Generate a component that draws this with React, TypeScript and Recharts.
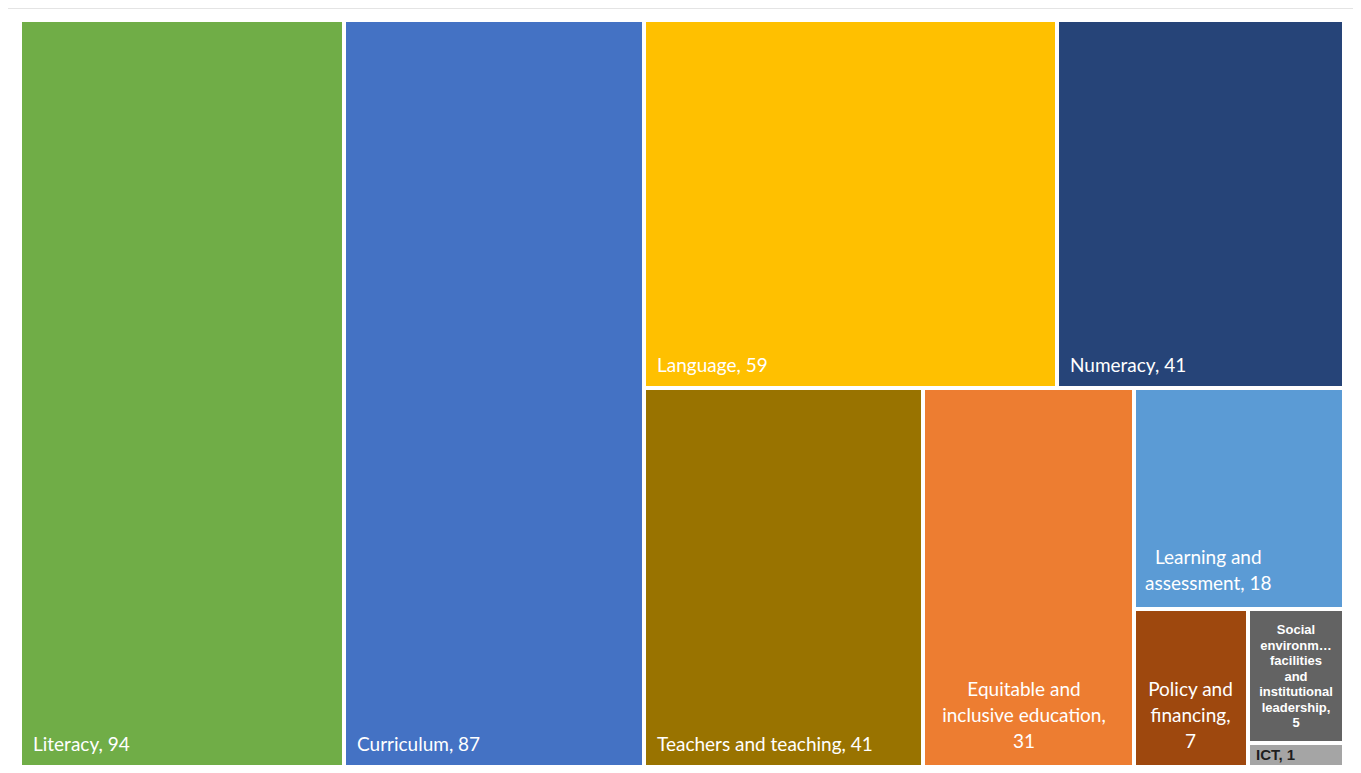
import React from 'react';
import { Treemap } from 'recharts';

const categories = [
  'Literacy',
  'Curriculum',
  'Language',
  'Numeracy',
  'Teachers and teaching',
  'Equitable and inclusive education',
  'Learning and assessment',
  'Policy and financing',
  'Social environment, facilities and institutional leadership',
  'ICT',
];
const counts = [94, 87, 59, 41, 41, 31, 18, 7, 5, 1];
const colors = ['#70AD47', '#4472C4', '#FFC000', '#264478', '#997300', '#ED7D31', '#5B9BD5', '#9E480E', '#636363', '#A5A5A5'];

// how Excel wrapped the longer labels ({v} = value)
const wrapped: Record<string, string[]> = {
  'Learning and assessment': ['Learning and', 'assessment, {v}'],
  'Equitable and inclusive education': ['Equitable and', 'inclusive education,', '{v}'],
  'Policy and financing': ['Policy and', 'financing,', '{v}'],
  'Social environment, facilities and institutional leadership': ['Social', 'environm…', 'facilities', 'and', 'institutional', 'leadership,', '{v}'],
};
const smallLabels = ['Social environment, facilities and institutional leadership', 'ICT'];
const darkText = ['ICT'];

const data = categories.map((name, i) => ({ name, value: counts[i], color: colors[i] }));

const FONT = 'Lato, "Open Sans", sans-serif';
const BOLD = 'Arial, "Liberation Sans", sans-serif';

const Cell = (props: any) => {
  const { x, y, width, height, name, value, color, depth } = props;
  if (depth !== 1) return null;
  const textColor = darkText.includes(name) ? '#1e1e1e' : '#ffffff';
  const lines = (wrapped[name] || [`${name}, ${value}`]).map((l) => l.replace('{v}', String(value)));
  let label: React.ReactNode = null;

  if (smallLabels.includes(name)) {
    if (lines.length > 1) {
      label = (
        <text x={x + width / 2} y={y + 25} textAnchor="middle" fill={textColor}
          style={{ fontFamily: BOLD, fontWeight: 700, fontSize: 13 }}>
          {lines.map((l, i) => (
            <tspan key={i} x={x + width / 2} dy={i === 0 ? 0 : 15.5}>{l}</tspan>
          ))}
        </text>
      );
    } else {
      label = (
        <text x={x + 8} y={y + height / 2 + 5} fill={textColor}
          style={{ fontFamily: BOLD, fontWeight: 700, fontSize: 15 }}>
          {lines[0]}
        </text>
      );
    }
  } else if (lines.length === 1) {
    label = (
      <text x={x + 13} y={y + height - 16} fill={textColor} style={{ fontFamily: FONT, fontSize: 19 }}>
        {lines[0]}
      </text>
    );
  } else {
    const maxChars = Math.max(...lines.map((l) => l.length));
    const cx = x + 12 + (maxChars * 8.9) / 2;
    const lh = 26;
    const first = y + height - 19 - lh * (lines.length - 1);
    label = (
      <text x={cx} y={first} textAnchor="middle" fill={textColor} style={{ fontFamily: FONT, fontSize: 19 }}>
        {lines.map((l, i) => (
          <tspan key={i} x={cx} dy={i === 0 ? 0 : lh}>{l}</tspan>
        ))}
      </text>
    );
  }

  return (
    <g>
      <rect x={x} y={y} width={width} height={height} fill={color} stroke="#ffffff" strokeWidth={4} />
      {label}
    </g>
  );
};

export default function App() {
  return (
    <div
      style={{
        marginLeft: -2,
        width: 1350,
        height: 780,
        borderTop: '1px solid #e4e4e4',
        borderLeft: '2px solid #d6d6d6',
        borderRight: '2px solid #e4e4e4',
        background: '#fff',
      }}
    >
      <div style={{ paddingLeft: 12, paddingTop: 11 }}>
        <Treemap
          width={1324}
          height={747}
          data={data}
          dataKey="value"
          nameKey="name"
          aspectRatio={0.72}
          isAnimationActive={false}
          content={<Cell />}
        />
      </div>
    </div>
  );
}
